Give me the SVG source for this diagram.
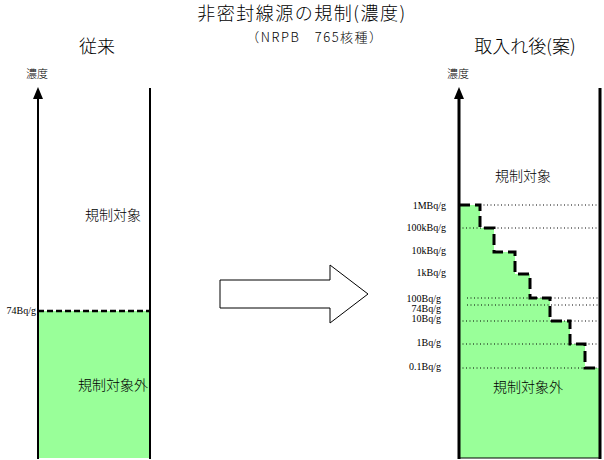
<svg xmlns="http://www.w3.org/2000/svg" width="604" height="460" viewBox="0 0 604 460">
<style>
.j{font-family:"Noto Sans CJK JP","Liberation Sans",sans-serif;fill:#000;font-weight:300}
.s{font-family:"Liberation Serif",serif;font-size:10px;text-anchor:end;fill:#000}
.dot{stroke:#000;stroke-width:1;stroke-dasharray:1,2.5}
</style>
<rect width="604" height="460" fill="#fff"/>
<text class="j" x="302" y="20" font-size="18" text-anchor="middle" letter-spacing="1.5">非密封線源の規制(濃度)</text>
<text class="j" x="315" y="42" font-size="13" text-anchor="middle" letter-spacing="1.5">（NRPB　765核種）</text>
<text class="j" x="97" y="53" font-size="18" text-anchor="middle">従来</text>
<text class="j" x="525" y="53" font-size="18" text-anchor="middle">取入れ後(案)</text>
<g id="left">
<rect x="38" y="311" width="112" height="147" fill="#99ff99"/>
<line x1="38" y1="98" x2="38" y2="459" stroke="#000" stroke-width="2"/>
<polygon points="38,87 33,99 43,99" fill="#000"/>
<line x1="150" y1="88" x2="150" y2="459" stroke="#000" stroke-width="2"/>
<line x1="38" y1="311" x2="150" y2="311" stroke="#000" stroke-width="2.5" stroke-dasharray="6,3"/>
<text class="j" x="37" y="78" font-size="11" text-anchor="middle">濃度</text>
<text class="s" x="36" y="314">74Bq/g</text>
<text class="j" x="113" y="220" font-size="14" text-anchor="middle">規制対象</text>
<text class="j" x="113" y="390" font-size="14" text-anchor="middle">規制対象外</text>
</g>
<g id="arrow">
<polygon points="220,280 330,280 330,265 368,294 330,323 330,308 220,308" fill="#fff" stroke="#000" stroke-width="1"/>
</g>
<g id="right">
<polygon points="459,205 480,205 480,228 494,228 494,252 515,252 515,274 530,274 530,298 550,298 550,321 570,321 570,344 585,344 585,368 600,368 600,458 459,458" fill="#99ff99"/>
<line class="dot" x1="480" y1="205" x2="600" y2="205"/>
<line class="dot" x1="459" y1="228" x2="600" y2="228"/>
<line class="dot" x1="467" y1="298" x2="600" y2="298"/>
<line class="dot" x1="467" y1="305" x2="600" y2="305"/>
<line class="dot" x1="459" y1="321" x2="600" y2="321"/>
<line class="dot" x1="459" y1="344" x2="600" y2="344"/>
<line class="dot" x1="459" y1="368" x2="600" y2="368"/>
<path d="M459,205 H480 V228 H494 V252 H515 V274 H530 V298 H550 V321 H570 V344 H585 V368 H600" fill="none" stroke="#000" stroke-width="3" stroke-dasharray="11,5"/>
<line x1="459" y1="98" x2="459" y2="459" stroke="#000" stroke-width="3"/>
<polygon points="459,87 454,99 464,99" fill="#000"/>
<line x1="600" y1="88" x2="600" y2="459" stroke="#000" stroke-width="3"/>
<line x1="459" y1="458" x2="600" y2="458" stroke="#000" stroke-width="1"/>
<text class="j" x="458" y="78" font-size="11" text-anchor="middle">濃度</text>
<text class="j" x="523" y="181" font-size="14" text-anchor="middle">規制対象</text>
<text class="j" x="528" y="392" font-size="14" text-anchor="middle">規制対象外</text>
<text class="s" x="446" y="209">1MBq/g</text>
<text class="s" x="446" y="231">100kBq/g</text>
<text class="s" x="446" y="254">10kBq/g</text>
<text class="s" x="446" y="276">1kBq/g</text>
<text class="s" x="441" y="302">100Bq/g</text>
<text class="s" x="441" y="312">74Bq/g</text>
<text class="s" x="441" y="322">10Bq/g</text>
<text class="s" x="441" y="346">1Bq/g</text>
<text class="s" x="441" y="370">0.1Bq/g</text>
</g>
</svg>
